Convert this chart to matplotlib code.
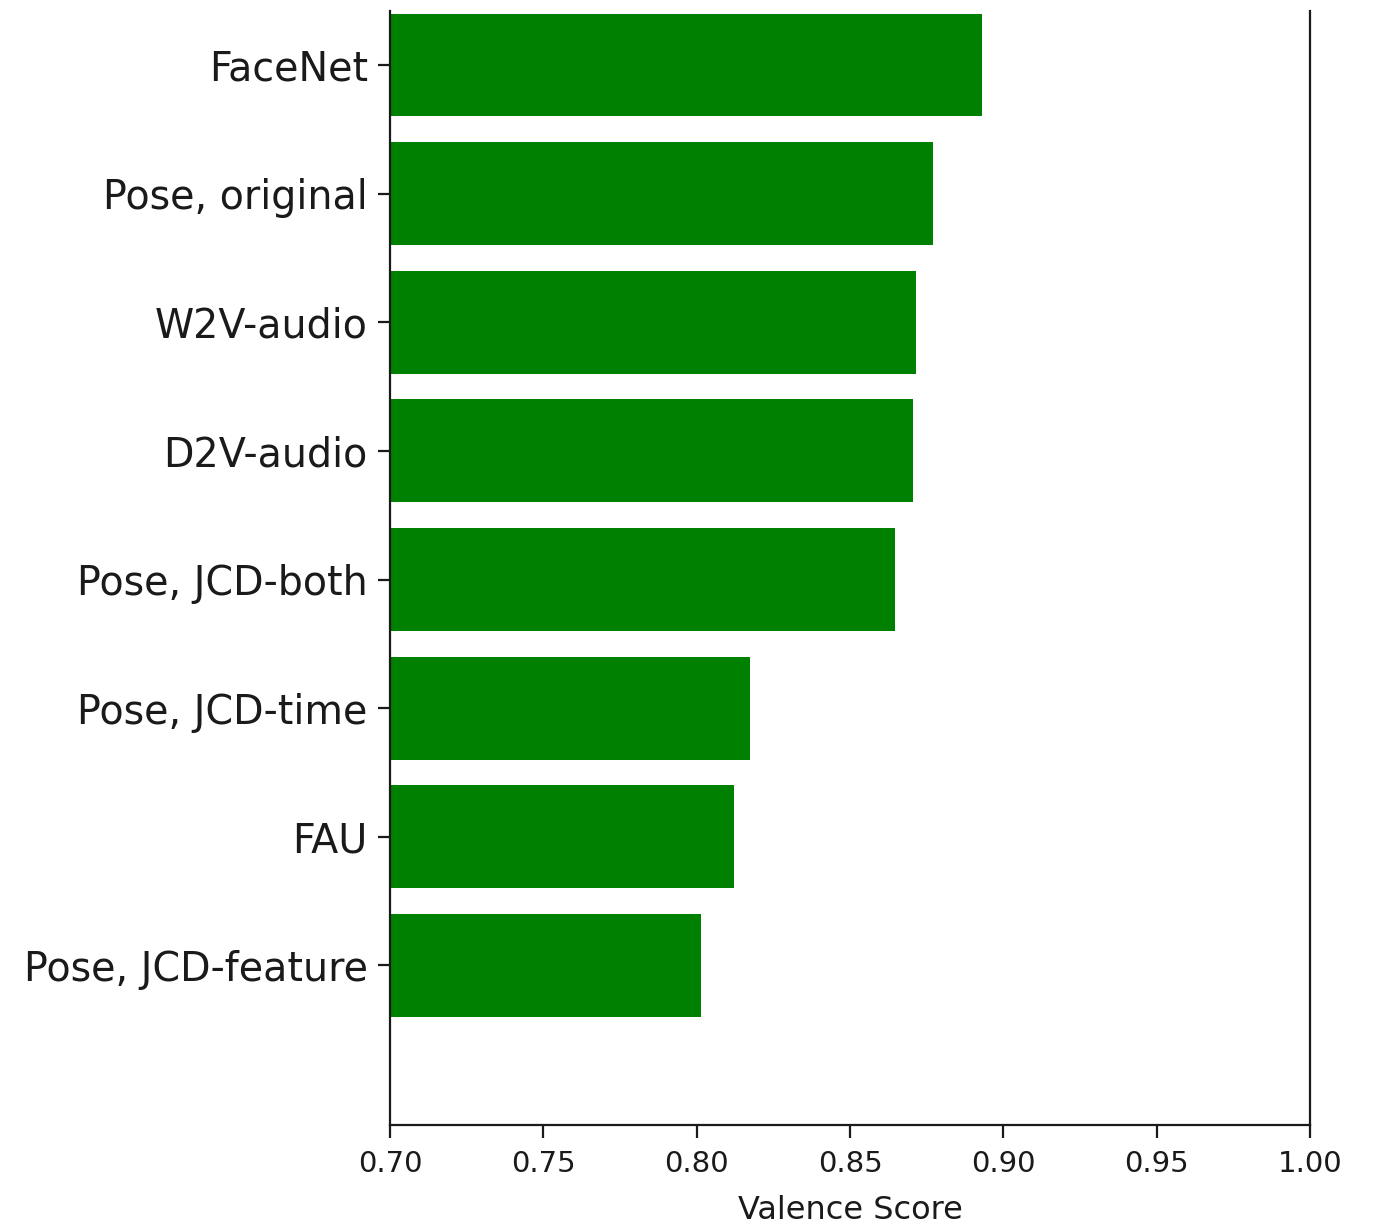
import matplotlib
matplotlib.use("Agg")
import matplotlib.pyplot as plt

# Valence scores per feature set (bottom to top)
features = [
    "Pose, JCD-feature",
    "FAU",
    "Pose, JCD-time",
    "Pose, JCD-both",
    "D2V-audio",
    "W2V-audio",
    "Pose, original",
    "FaceNet",
]
scores = [0.8014, 0.8122, 0.8174, 0.8647, 0.8705, 0.8715, 0.877, 0.893]
xticks = [0.70, 0.75, 0.80, 0.85, 0.90, 0.95, 1.00]

fig = plt.figure(figsize=(13.82, 12.26), dpi=100)
ax = fig.add_axes([390 / 1382, 1 - 1125 / 1226, 920 / 1382, (1125 - 11) / 1226])

ypos = list(range(len(features)))
ax.barh(ypos, scores, height=0.8, color="green")

ax.set_xlim(0.70, 1.00)
ax.set_ylim(-1.24, 7.42)
ax.set_yticks(ypos)
ax.set_yticklabels(features, fontsize=28.5, color="#1a1a1a")
ax.set_xticks(xticks)
ax.set_xticklabels([f"{t:.2f}" for t in xticks], fontsize=21, color="#1a1a1a")
ax.set_xlabel("Valence Score", fontsize=23, labelpad=12, color="#1a1a1a")

ax.spines["top"].set_visible(False)
for s in ("left", "right", "bottom"):
    ax.spines[s].set_linewidth(1.6)
    ax.spines[s].set_color("#1a1a1a")
ax.tick_params(axis="both", length=9, width=1.6, color="#1a1a1a")
ax.tick_params(axis="x", pad=9)
ax.tick_params(axis="y", pad=7)

fig.savefig("out.png", dpi=100)
